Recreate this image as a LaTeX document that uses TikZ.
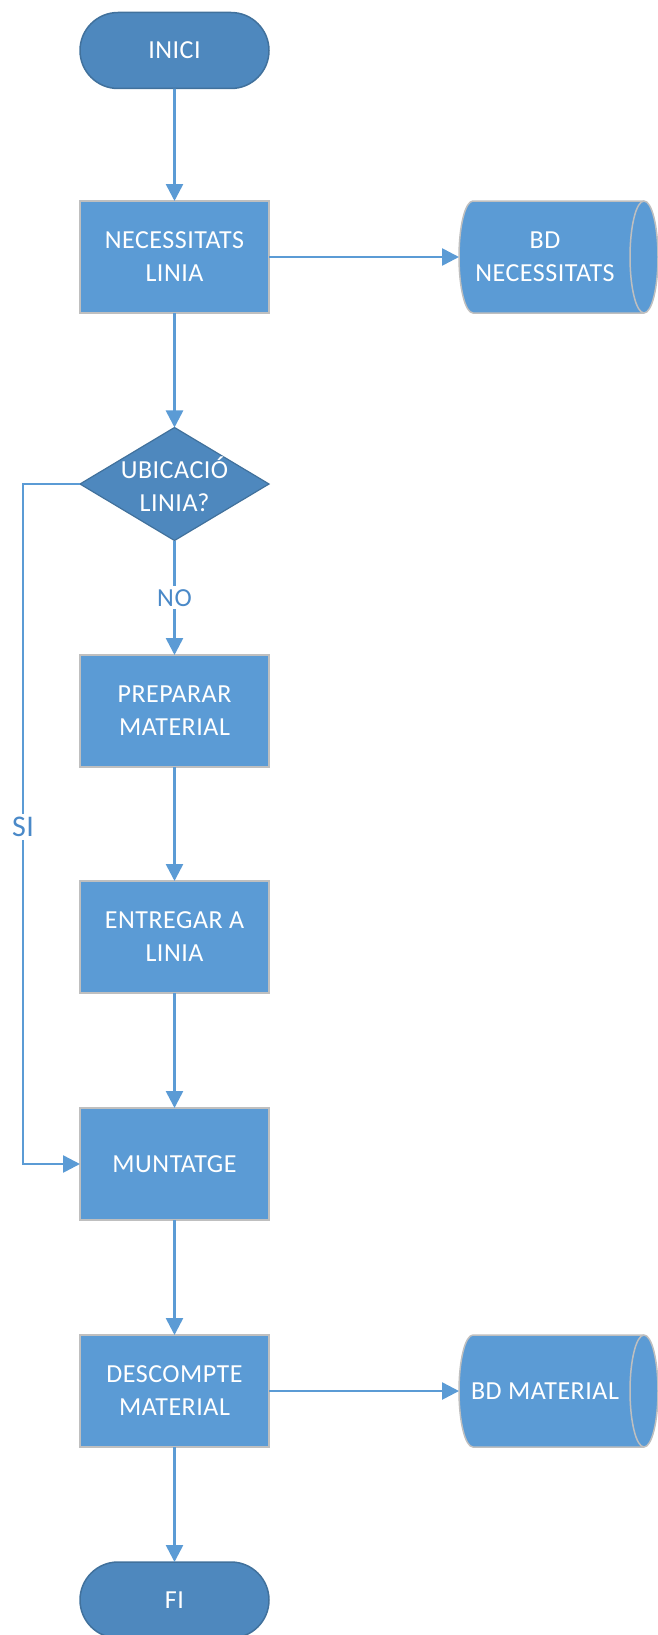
\documentclass[tikz,border=0pt]{standalone}
\usepackage{fontspec}
\setmainfont{Carlito}[LetterSpace=2]
\usetikzlibrary{shapes.geometric,shapes.misc,arrows.meta}
\definecolor{procfill}{HTML}{5B9BD5}
\definecolor{procline}{HTML}{BFBFBF}
\definecolor{termfill}{HTML}{4E88BE}
\definecolor{termline}{HTML}{41719C}
\definecolor{flow}{HTML}{5B9BD5}
\definecolor{labeltext}{HTML}{4A89C8}
\begin{document}
\begin{tikzpicture}[x=1pt,y=1pt,
  every node/.style={inner sep=0pt, outer sep=0pt},
  txt/.style={text=white, font=\fontsize{26}{33}\selectfont, align=center},
  process/.style={txt, rectangle, draw=procline, line width=1.5pt, fill=procfill,
    minimum width=189pt, minimum height=112pt},
  terminal/.style={txt, rounded rectangle, draw=termline, line width=1.5pt, fill=termfill,
    minimum width=189pt, minimum height=76pt},
  decision/.style={diamond, draw=termline, line width=1.2pt, fill=termfill,
    minimum width=189pt, minimum height=113pt},
  store/.style={fill=procfill, draw=procline, line width=1.5pt},
  flowline/.style={draw=flow, line width=2.6pt, -{Triangle[length=17pt,width=17pt]}},
  flowlabel/.style={text=labeltext, fill=white, inner sep=3pt}
]
\useasboundingbox (0,0) rectangle (658,-1635);

% main column
\node[terminal] (inici) at (174.5,-50.5) {INICI};
\node[process] (nec) at (174.5,-257) {NECESSITATS\\LINIA};
\node[decision] (dec) at (174.5,-484) {};
\node[txt] (decT) at (174.5,-484) {UBICACIÓ\\LINIA?};
\node[process] (prep) at (174.5,-711) {PREPARAR\\MATERIAL};
\node[process] (entr) at (174.5,-937) {ENTREGAR A\\LINIA};
\node[process] (munt) at (174.5,-1164) {MUNTATGE};
\node[process] (desc) at (174.5,-1391) {DESCOMPTE\\MATERIAL};
\node[terminal] (fi) at (174.5,-1600) {FI};

% data stores (horizontal cylinders)
\path[store] (473,-201) -- (644,-201)
  arc[start angle=90, end angle=-90, x radius=14, y radius=56]
  -- (473,-313)
  arc[start angle=270, end angle=90, x radius=14, y radius=56] -- cycle;
\draw[procline, line width=1.5pt] (644,-201)
  arc[start angle=90, end angle=270, x radius=14, y radius=56];
\node[txt] (bdnec) at (545,-257) {BD\\NECESSITATS};
\coordinate (bdnecIn) at (459,-257);

\path[store] (473,-1335) -- (644,-1335)
  arc[start angle=90, end angle=-90, x radius=14, y radius=56]
  -- (473,-1447)
  arc[start angle=270, end angle=90, x radius=14, y radius=56] -- cycle;
\draw[procline, line width=1.5pt] (644,-1335)
  arc[start angle=90, end angle=270, x radius=14, y radius=56];
\node[txt] (bdmat) at (545,-1391) {BD MATERIAL};
\coordinate (bdmatIn) at (459,-1391);

% connectors
\draw[flowline] (inici) -- (nec);
\draw[flowline] (nec.east) -- (bdnecIn);
\draw[flowline] (nec) -- (dec);
\draw[flowline] (dec) -- node[flowlabel, font=\fontsize{26}{30}\selectfont] {NO} (prep);
\draw[flowline] (prep) -- (entr);
\draw[flowline] (entr) -- (munt);
\coordinate (siTop) at (23,-484);
\coordinate (siBot) at (23,-1164);
\draw[flowline] (dec.west) -- (siTop) -- node[flowlabel, font=\fontsize{30}{34}\selectfont, pos=0.5, yshift=-3pt] {SI} (siBot) -- (munt.west);
\draw[flowline] (munt) -- (desc);
\draw[flowline] (desc.east) -- (bdmatIn);
\draw[flowline] (desc) -- (fi);
\end{tikzpicture}
\end{document}
